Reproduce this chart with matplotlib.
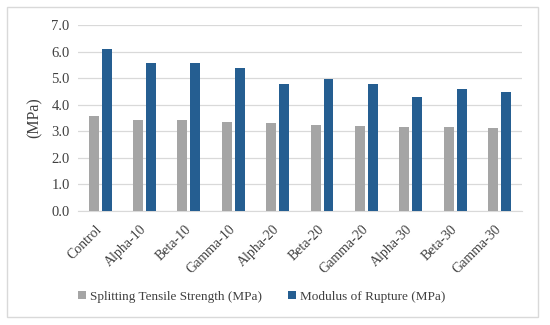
import numpy as np
import matplotlib
matplotlib.use('Agg')
import matplotlib.pyplot as plt
from matplotlib.patches import Rectangle

plt.rcParams['font.family'] = ['Liberation Serif', 'DejaVu Serif']

mixes = ['Control', 'Alpha-10', 'Beta-10', 'Gamma-10', 'Alpha-20',
         'Beta-20', 'Gamma-20', 'Alpha-30', 'Beta-30', 'Gamma-30']
splitting = [3.58, 3.43, 3.41, 3.34, 3.32, 3.22, 3.21, 3.16, 3.17, 3.13]
rupture = [6.10, 5.56, 5.58, 5.38, 4.78, 4.98, 4.79, 4.29, 4.58, 4.48]
yticks = [0.0, 1.0, 2.0, 3.0, 4.0, 5.0, 6.0, 7.0]

fig = plt.figure(figsize=(5.5, 3.25), dpi=100)
ax = fig.add_axes([0.1418, 0.3517, 0.8067, 0.5713])

x = np.arange(len(mixes))
w = 0.225
off = 0.146
ax.bar(x - off, splitting, w, color='#A5A5A5', label='Splitting Tensile Strength (MPa)', zorder=3)
ax.bar(x + off, rupture, w, color='#255E91', label='Modulus of Rupture (MPa)', zorder=3)

ax.set_xlim(-0.5, len(mixes) - 0.5)
ax.set_ylim(0, 7)
ax.set_yticks(yticks)
ax.set_yticklabels(['%.1f' % v for v in yticks], fontsize=10.5, color='#404040')
ax.set_xticks(x)
ax.set_xticklabels(mixes, rotation=45, ha='right', va='center', rotation_mode='anchor',
                   fontsize=10, color='#404040')
ax.tick_params(axis='y', length=0, pad=6)
ax.tick_params(axis='x', length=0, pad=12)
ax.grid(axis='y', color='#D9D9D9', linewidth=0.9, zorder=0)
for s in ['top', 'right', 'left']:
    ax.spines[s].set_visible(False)
ax.spines['bottom'].set_color('#D9D9D9')
ax.set_ylabel('(MPa)', fontsize=11.5, color='#404040', labelpad=6)

fig.legend(loc='center', bbox_to_anchor=(0.476, 0.087), ncol=2, frameon=False,
           fontsize=9.5, handlelength=0.6, handleheight=0.6, handletextpad=0.3,
           columnspacing=2.0, labelcolor='#404040')

fig.patches.append(Rectangle((7 / 550, 8 / 325), 531 / 550, 310 / 325,
                             transform=fig.transFigure, fill=False,
                             edgecolor='#D9D9D9', linewidth=1.0))

plt.savefig('out.png', dpi=100)
